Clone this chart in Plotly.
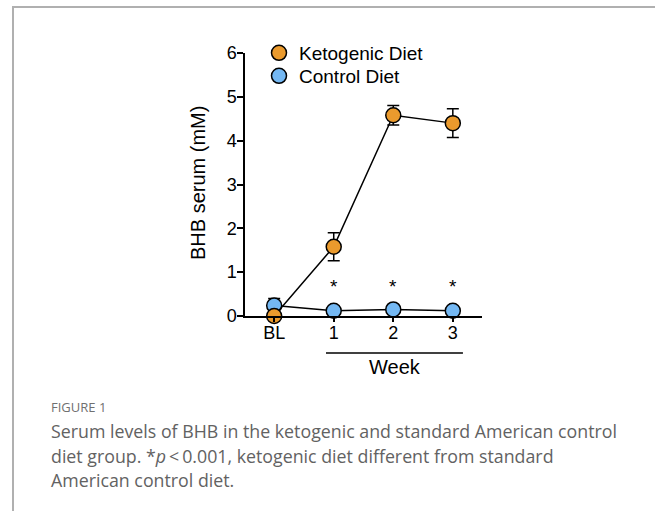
import plotly.graph_objects as go

# ---- data ----
categories = ["BL", "1", "2", "3"]
x_idx = [0, 1, 2, 3]
keto_mean = [0.0, 1.58, 4.58, 4.40]
keto_err = [0.0, 0.32, 0.22, 0.33]
ctrl_mean = [0.24, 0.12, 0.15, 0.12]
ctrl_err = [0.16, 0.05, 0.05, 0.05]
sig_idx = [1, 2, 3]
y_ticks = [0, 1, 2, 3, 4, 5, 6]

KETO_COLOR = "#EA9A2D"
CTRL_COLOR = "#74B8F3"

W, H = 655, 511
L, R, T, B = 245, 482, 53, 316  # plot area pixel box


def px(xp):
    return (xp - L) / (R - L)


def py(yp):
    return (B - yp) / (B - T)


fig = go.Figure()

for name, mean, err, color in [
    ("Control Diet", ctrl_mean, ctrl_err, CTRL_COLOR),
    ("Ketogenic Diet", keto_mean, keto_err, KETO_COLOR),
]:
    fig.add_trace(go.Scatter(
        x=x_idx, y=mean, mode="lines+markers", name=name,
        showlegend=False, cliponaxis=False,
        line=dict(color="black", width=1.5),
        marker=dict(size=15, color=color, line=dict(color="black", width=1.5)),
        error_y=dict(type="data", array=err, visible=True,
                     color="black", thickness=1.5, width=6),
    ))

# legend entries (markers only), each in its own legend box
for name, color, lg in [("Ketogenic Diet", KETO_COLOR, "legend"),
                        ("Control Diet", CTRL_COLOR, "legend2")]:
    fig.add_trace(go.Scatter(
        x=[None], y=[None], mode="markers", name=name, legend=lg,
        marker=dict(size=15, color=color, line=dict(color="black", width=1.5)),
    ))

# significance asterisks
for i in sig_idx:
    fig.add_annotation(x=i, y=0.68, xref="x", yref="y", text="*",
                       showarrow=False, font=dict(size=19, color="black",
                                                  family="Liberation Sans"),
                       xanchor="center", yanchor="middle")

# y-axis title
fig.add_annotation(x=px(198), y=py(183), xref="paper", yref="paper",
                   text="BHB serum (mM)", textangle=-90, showarrow=False,
                   xanchor="center", yanchor="middle",
                   font=dict(size=20, color="black", family="Liberation Sans"))

# Week label and underline
fig.add_annotation(x=2.03, y=py(367), xref="x", yref="paper", text="Week",
                   showarrow=False, xanchor="center", yanchor="middle",
                   font=dict(size=20, color="black", family="Liberation Sans"))
fig.add_shape(type="line", xref="x", yref="paper", x0=0.87, x1=3.17,
              y0=py(353), y1=py(353), line=dict(color="black", width=1.5))

# figure frame (top and left grey lines)
fig.add_shape(type="line", xref="paper", yref="paper", x0=px(12), x1=px(660),
              y0=py(7), y1=py(7), line=dict(color="#b0b0b0", width=2))
fig.add_shape(type="line", xref="paper", yref="paper", x0=px(13), x1=px(13),
              y0=py(6), y1=py(520), line=dict(color="#b0b0b0", width=2))

# caption
fig.add_annotation(x=px(49), y=py(407), xref="paper", yref="paper",
                   text="FIGURE 1", showarrow=False, xanchor="left",
                   yanchor="middle",
                   font=dict(size=13, color="#707070", family="Open Sans"))
caption_lines = [
    "Serum levels of BHB in the ketogenic and standard American control",
    "diet group. *<i>p</i>\u2009<\u20090.001, ketogenic diet different from standard",
    "American control diet.",
]
for k, line in enumerate(caption_lines):
    fig.add_annotation(x=px(49), y=py(431 + 24.5 * k), xref="paper",
                       yref="paper", text=line, showarrow=False,
                       xanchor="left", yanchor="middle",
                       font=dict(size=17.8, color="#626262",
                                 family="Open Sans"))

legend_common = dict(xanchor="left", yanchor="top",
                     font=dict(size=19, family="Liberation Sans",
                               color="black"),
                     bgcolor="rgba(0,0,0,0)", borderwidth=0,
                     itemsizing="trace")

fig.update_layout(
    width=W, height=H,
    margin=dict(l=L, r=W - R, t=T, b=H - B, pad=0),
    paper_bgcolor="white", plot_bgcolor="white",
    font=dict(family="Liberation Sans", color="black"),
    showlegend=True,
    legend=dict(x=px(259), y=py(34), **legend_common),
    legend2=dict(x=px(259), y=py(57), **legend_common),
    xaxis=dict(range=[-0.49, 3.49], tickvals=x_idx, ticktext=categories,
               showline=True, linecolor="black", linewidth=1.5,
               ticks="outside", ticklen=4, tickwidth=1.5, tickcolor="black",
               showgrid=False, zeroline=False, ticklabelstandoff=-4,
               tickfont=dict(size=18, family="Liberation Sans", color="black")),
    yaxis=dict(range=[0, 6], tickvals=y_ticks, showline=True,
               linecolor="black", linewidth=1.5, ticks="outside", ticklen=6,
               tickwidth=1.5, tickcolor="black", showgrid=False,
               zeroline=False, ticklabelstandoff=-3,
               tickfont=dict(size=18, family="Liberation Sans", color="black")),
)

fig.write_html("out.html", config={"displayModeBar": False},
               post_script="document.body.style.margin='0';")
